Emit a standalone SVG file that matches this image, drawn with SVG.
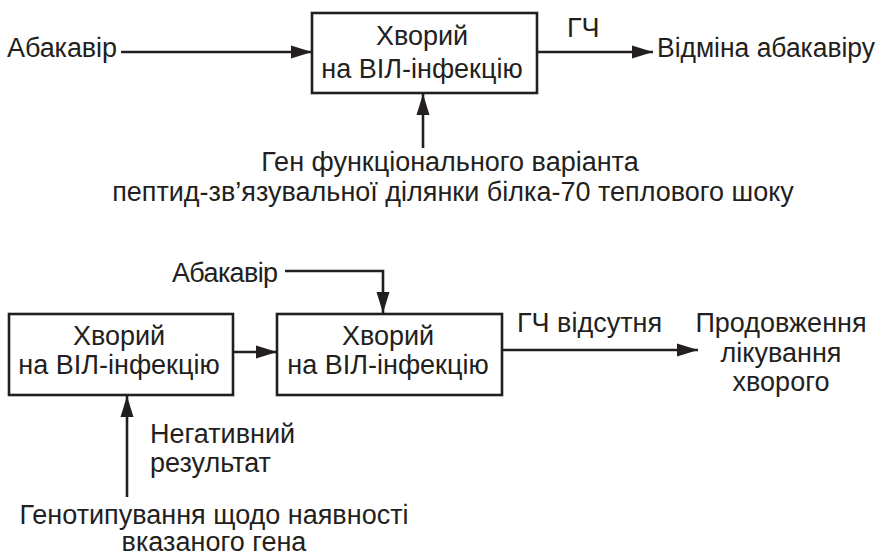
<svg xmlns="http://www.w3.org/2000/svg" width="880" height="557" viewBox="0 0 880 557">
<defs>
<style>
text{font-family:"Liberation Sans",Arial,sans-serif;font-size:27px;fill:#231f20}
.c{text-anchor:middle}
.box{fill:#fff;stroke:#231f20;stroke-width:2.6}
.ln{fill:none;stroke:#231f20;stroke-width:2.6}
</style>
<marker id="ah" markerUnits="userSpaceOnUse" markerWidth="22" markerHeight="14" refX="21" refY="7" orient="auto">
<path d="M0,0.5 L21,7 L0,13.5 Z" fill="#231f20"/>
</marker>
</defs>
<g id="connectors">
<line class="ln" x1="121" y1="52" x2="312" y2="52" marker-end="url(#ah)"/>
<line class="ln" x1="537" y1="52" x2="653" y2="52" marker-end="url(#ah)"/>
<line class="ln" x1="423" y1="148" x2="423" y2="94" marker-end="url(#ah)"/>
<polyline class="ln" points="285,271 383,271 383,313" marker-end="url(#ah)"/>
<line class="ln" x1="233" y1="352" x2="277" y2="352" marker-end="url(#ah)"/>
<line class="ln" x1="502" y1="350" x2="698" y2="350" marker-end="url(#ah)"/>
<line class="ln" x1="127" y1="497" x2="127" y2="396" marker-end="url(#ah)"/>
</g>
<g id="abacavir1"><text x="7" y="57" textLength="110">Абакавір</text></g>
<g id="box1">
<rect class="box" x="312" y="13" width="225" height="80"/>
<text class="c" x="422" y="45">Хворий</text>
<text class="c" x="422" y="78">на  ВІЛ-інфекцію</text>
</g>
<g id="gch1"><text x="567" y="37">ГЧ</text></g>
<g id="cancel"><text x="657" y="57" textLength="218" lengthAdjust="spacingAndGlyphs">Відміна абакавіру</text></g>
<g id="gene">
<text class="c" x="450" y="171">Ген функціонального варіанта</text>
<text class="c" x="453" y="201">пептид-зв’язувальної ділянки білка-70 теплового шоку</text>
</g>
<g id="abacavir2"><text x="172" y="282" textLength="106">Абакавір</text></g>
<g id="box2">
<rect class="box" x="9" y="314" width="224" height="81"/>
<text class="c" x="119" y="345">Хворий</text>
<text class="c" x="119" y="374">на  ВІЛ-інфекцію</text>
</g>
<g id="box3">
<rect class="box" x="277" y="314" width="225" height="81"/>
<text class="c" x="388" y="345">Хворий</text>
<text class="c" x="388" y="374">на  ВІЛ-інфекцію</text>
</g>
<g id="gch2"><text x="517" y="332">ГЧ  відсутня</text></g>
<g id="continue">
<text class="c" x="781" y="332">Продовження</text>
<text class="c" x="781" y="362">лікування</text>
<text class="c" x="781" y="391">хворого</text>
</g>
<g id="negative">
<text x="150" y="443">Негативний</text>
<text x="150" y="472">результат</text>
</g>
<g id="genotyping">
<text class="c" x="214" y="524">Генотипування щодо наявності</text>
<text class="c" x="214" y="551">вказаного гена</text>
</g>
</svg>
